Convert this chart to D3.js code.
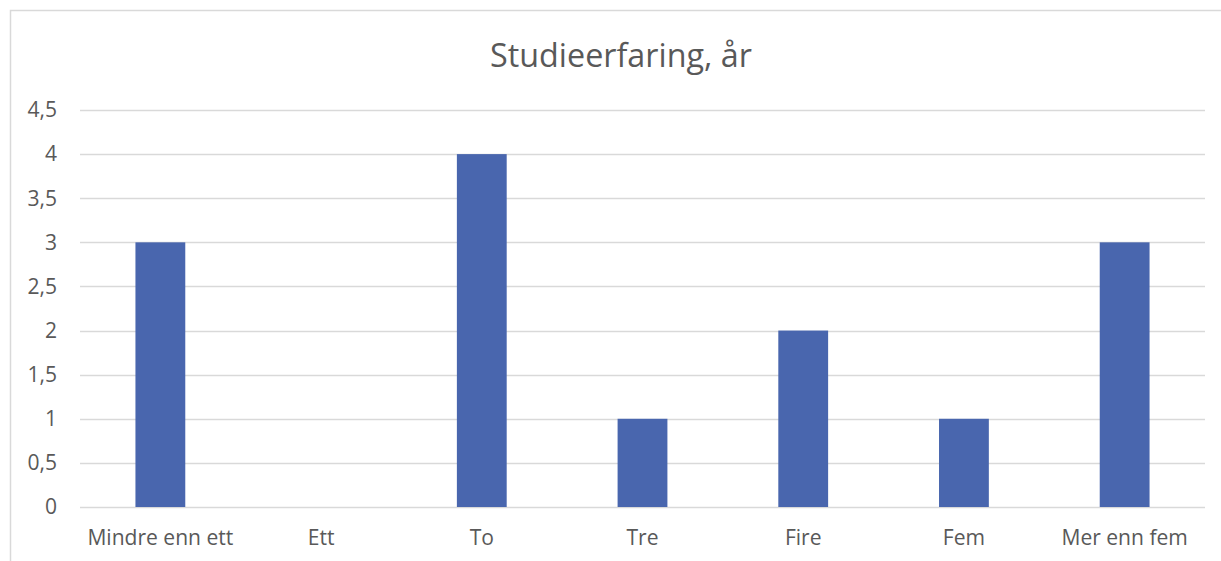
<!DOCTYPE html>
<html><head><meta charset="utf-8">
<script src="https://cdn.jsdelivr.net/npm/d3@7"></script>
<style>body{margin:0;background:#fff}</style>
</head><body>
<svg id="c" width="1221" height="561"></svg>
<script>
const title = "Studieerfaring, år";
const categories = ["Mindre enn ett","Ett","To","Tre","Fire","Fem","Mer enn fem"];
const values = [3,0,4,1,2,1,3];
const yTicks = [0,0.5,1,1.5,2,2.5,3,3.5,4,4.5];
const yTickLabels = ["0","0,5","1","1,5","2","2,5","3","3,5","4","4,5"];

const svg = d3.select("#c");
const font = "'Open Sans', 'Liberation Sans', sans-serif";
const txt = "#595959";

svg.append("rect").attr("x",10.5).attr("y",10.5).attr("width",1300).attr("height",700)
  .attr("fill","#fff").attr("stroke","#d9d9d9").attr("stroke-width",1.5);

const x = d3.scaleBand().domain(categories).range([80,1205]).paddingInner(0).paddingOuter(0);
const y = d3.scaleLinear().domain([0,4.5]).range([507,110]);

// gridlines
svg.append("g").selectAll("line").data(yTicks).join("line")
  .attr("x1",80).attr("x2",1205)
  .attr("y1",d=>Math.round(y(d))+0.5).attr("y2",d=>Math.round(y(d))+0.5)
  .attr("stroke","#d9d9d9").attr("stroke-width",1.3);

// bars
const bw = x.bandwidth()*0.31;
svg.append("g").selectAll("rect").data(values).join("rect")
  .attr("x",(d,i)=>x(categories[i])+x.bandwidth()/2-bw/2)
  .attr("width",bw)
  .attr("y",d=>y(d)).attr("height",d=>y(0)-y(d))
  .attr("fill","#4966AE");

// y labels
const yl = svg.append("g").selectAll("text").data(yTicks).join("text")
  .attr("x",57).attr("y",d=>y(d)).attr("dy","0.35em")
  .attr("text-anchor","end").attr("fill",txt)
  .style("font-family",font).style("font-size","17px")
  .text((d,i)=>yTickLabels[i]);

// x labels
const xl = svg.append("g").selectAll("text").data(categories).join("text")
  .attr("x",d=>x(d)+x.bandwidth()/2).attr("y",545)
  .attr("text-anchor","middle").attr("fill",txt)
  .style("font-family",font).style("font-size","17px")
  .text(d=>d);

// fit x label size to target width of "Mindre enn ett" (~146px)
const w0 = xl.nodes()[0].getComputedTextLength();
const fs = 17*146/w0;
xl.style("font-size",fs+"px");
yl.style("font-size",fs+"px");

const t = svg.append("text").attr("x",621).attr("y",67).attr("text-anchor","middle")
  .attr("fill",txt).style("font-family",font).style("font-size","28px").text(title);
const tw = t.node().getComputedTextLength();
t.style("font-size",(28*262/tw)+"px");
</script>
</body></html>
